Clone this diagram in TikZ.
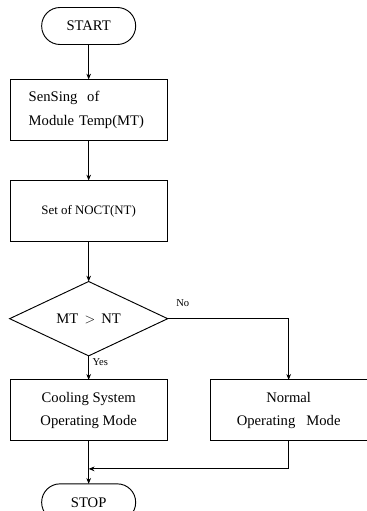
\documentclass[tikz,border=0pt]{standalone}
\usepackage{fontspec}
\setmainfont{Liberation Serif}
\usepackage{tikz}
\usetikzlibrary{arrows.meta,positioning,shapes.geometric}
\tikzset{
  box/.style={draw, line width=0.8pt, align=center, inner sep=0pt, outer sep=0pt, font=\fontsize{12.5}{20}\selectfont},
  terminal/.style={box, rounded corners=0.55cm, minimum width=2.82cm, minimum height=1.11cm},
  process/.style={box, minimum width=4.71cm, minimum height=1.83cm},
  decision/.style={box, diamond, minimum width=4.74cm, minimum height=1.83cm},
  line/.style={-{Stealth[length=5pt,width=4pt]}, line width=0.7pt},
  tag/.style={font=\fontsize{9}{11}\selectfont, inner sep=1pt}
}

\begin{document}
\begin{tikzpicture}
  \useasboundingbox (0,0) rectangle (11.01,-15.33);
  \node[terminal] (start) at (2.66,-0.78) {START};
  \node[process, below=1.05cm of start, align=left, text width=3.6cm] (sense) {SenSing\ \ of\\Module Temp(MT)};
  \node[process, below=1.2cm of sense, font=\fontsize{11}{14}\selectfont] (noct) {Set of NOCT(NT)};
  \node[decision, below=1.2cm of noct] (test) {MT \,$>$\, NT};
  \node[process, below=0.72cm of test] (cool) {Cooling System\\Operating Mode};
  \node[process, right=1.29cm of cool] (normal) {Normal\\Operating\ \ \ Mode};
  \node[terminal, below=1.29cm of cool] (stop) {STOP};
  \coordinate[below=0.84cm of cool] (merge);

  \draw[line] (start) -- (sense);
  \draw[line] (sense) -- (noct);
  \draw[line] (noct) -- (test);
  \draw[line] (test) -- node[tag, right=2pt, pos=0.25] (yes) {Yes} (cool);
  \draw[line] (test.east) -| node[tag, above right=9pt and 6pt, pos=0] (no) {No} (normal.north);
  \draw[line] (cool) -- (stop);
  \draw[line] (normal.south) |- (merge);
\end{tikzpicture}
\end{document}
